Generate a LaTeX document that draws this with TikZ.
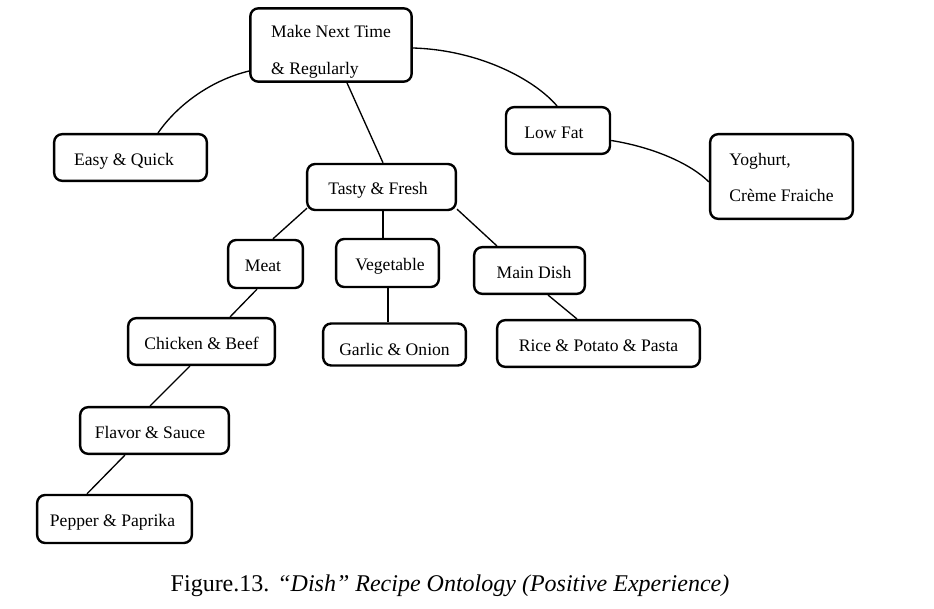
\documentclass[tikz,border=0pt]{standalone}
\usepackage{fontspec}
\setmainfont{Liberation Serif}
\usetikzlibrary{calc}
\tikzset{
  boxbase/.style={draw, line width=1.8pt, rounded corners=6pt, inner sep=0pt,
    font=\fontsize{13.2}{16}\selectfont, align=left},
  box/.style={boxbase, text height=13.5pt, text depth=2pt},
  conn/.style={line width=1pt},
}
\begin{document}
\begin{tikzpicture}[x=0.75pt,y=-0.75pt]
\useasboundingbox (0,0) rectangle (934,609);
\node[boxbase, minimum width=121pt, minimum height=55pt,
  font=\fontsize{13.2}{27.75}\selectfont] (make) at (331,45) {\rule{0pt}{20pt}Make Next Time\\\& Regularly};
\node[box, minimum width=114.5pt, minimum height=35pt] (easy) at (130.5,157.5) {Easy \& Quick\hspace*{9.75pt}};
\node[box, minimum width=78pt, minimum height=35pt] (lowfat) at (558,130.5) {Low Fat\hspace*{6pt}};
\node[boxbase, minimum width=107pt, minimum height=63.5pt,
  font=\fontsize{13.2}{27}\selectfont] (yog) at (781.5,176.5) {\rule{0pt}{11pt}Yoghurt,\\Crème Fraiche};
\node[box, minimum width=111.5pt, minimum height=34.5pt] (tasty) at (381.5,187) {Tasty \& Fresh\hspace*{5.25pt}};
\node[box, minimum width=56pt, minimum height=36pt] (meat) at (265.5,264) {Meat\hspace*{3.75pt}};
\node[box, minimum width=77pt, minimum height=36pt] (veg) at (387.5,263) {\hspace*{3.75pt}Vegetable};
\node[box, minimum width=83pt, minimum height=35pt] (main) at (529.5,270.5) {\hspace*{6.75pt}Main Dish};
\node[box, minimum width=110pt, minimum height=35pt] (chick) at (201.5,341.5) {Chicken \& Beef};
\node[box, minimum width=107pt, minimum height=31.5pt, text height=19pt] (garlic) at (394.5,344.5) {Garlic \& Onion};
\node[box, minimum width=152pt, minimum height=35pt] (rice) at (598.5,343.5) {Rice \& Potato \& Pasta};
\node[box, minimum width=111.5pt, minimum height=35pt] (flavor) at (154.5,430.5) {Flavor \& Sauce\hspace*{6.75pt}};
\node[box, minimum width=116pt, minimum height=36pt] (pepper) at (114.5,519) {Pepper \& Paprika\hspace*{3pt}};

\draw[conn] ($(make.west)+(0,26)$) .. controls (212,80) and (178,104) .. ($(easy.north)+(27.5,0)$);
\draw[conn] ($(make.east)+(0,3)$) .. controls (480,50) and (535,80) .. ($(lowfat.north)+(-1,0)$);
\draw[conn] ($(make.south)+(16,0)$) -- ($(tasty.north)+(1.5,0)$);
\draw[conn] ($(lowfat.east)+(0,10)$) .. controls (652,147) and (690,163) .. ($(yog.west)+(0,5.5)$);
\draw[conn] ($(tasty.south west)+(1,-3)$) -- ($(meat.north)+(7.5,0)$);
\draw[conn] ($(tasty.south)+(1.5,0)$) -- ($(veg.north)+(-4.5,0)$);
\draw[conn] ($(tasty.south east)+(0,-2)$) -- ($(main.north west)+(24,0)$);
\draw[conn] ($(meat.south)+(-8.5,0)$) -- ($(chick.north)+(28.5,0)$);
\draw[conn] ($(veg.south)+(0.5,0)$) -- ($(garlic.north)+(-6.5,0)$);
\draw[conn] ($(main.south)+(18.5,0)$) -- ($(rice.north)+(-21.5,0)$);
\draw[conn] ($(chick.south)+(-11.5,0)$) -- ($(flavor.north)+(-4.5,0)$);
\draw[conn] ($(flavor.south)+(-29.5,0)$) -- ($(pepper.north)+(-27.5,0)$);

\node[font=\fontsize{18}{22}\selectfont, inner sep=0pt] (cap) at (450,586)
  {Figure.13. \textit{“Dish” Recipe Ontology (Positive Experience)}};
\end{tikzpicture}
\end{document}
